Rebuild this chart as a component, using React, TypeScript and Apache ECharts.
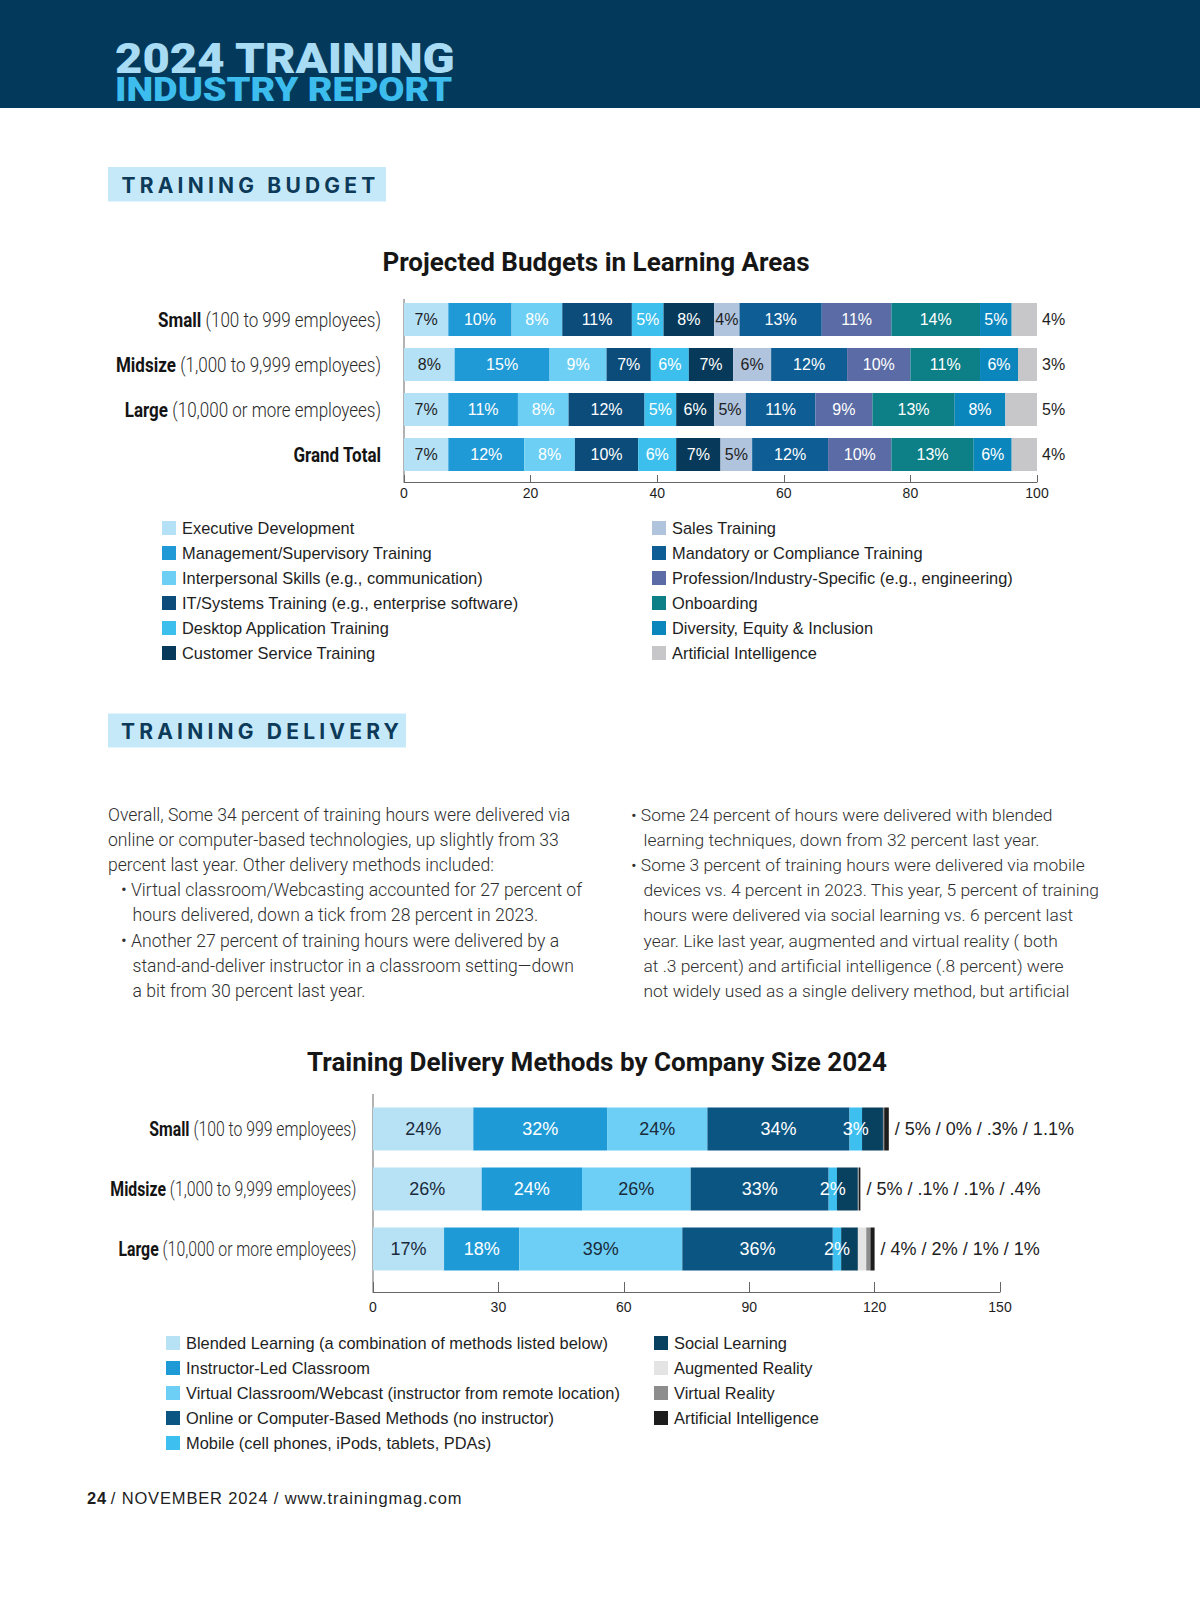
import React, { useEffect, useRef } from 'react';
import * as echarts from 'echarts';

// ---------- Data: Projected Budgets in Learning Areas ----------
const budgetCategories = ['Small', 'Midsize', 'Large', 'Grand Total'];
const budgetCategoryNotes = ['(100 to 999 employees)', '(1,000 to 9,999 employees)', '(10,000 or more employees)', ''];
const budgetSeriesNames = [
  'Executive Development',
  'Management/Supervisory Training',
  'Interpersonal Skills (e.g., communication)',
  'IT/Systems Training (e.g., enterprise software)',
  'Desktop Application Training',
  'Customer Service Training',
  'Sales Training',
  'Mandatory or Compliance Training',
  'Profession/Industry-Specific (e.g., engineering)',
  'Onboarding',
  'Diversity, Equity & Inclusion',
  'Artificial Intelligence',
];
const executiveDevelopment = [7, 8, 7, 7];
const managementSupervisory = [10, 15, 11, 12];
const interpersonalSkills = [8, 9, 8, 8];
const itSystems = [11, 7, 12, 10];
const desktopApplication = [5, 6, 5, 6];
const customerService = [8, 7, 6, 7];
const salesTraining = [4, 6, 5, 5];
const mandatoryCompliance = [13, 12, 11, 12];
const professionSpecific = [11, 10, 9, 10];
const onboarding = [14, 11, 13, 13];
const diversityEquity = [5, 6, 8, 6];
const artificialIntelligenceBudget = [4, 3, 5, 4];
const budgetAxisMax = 100;
const budgetAxisStep = 20;

// ---------- Data: Training Delivery Methods by Company Size 2024 ----------
const deliveryCategories = ['Small', 'Midsize', 'Large'];
const deliveryCategoryNotes = ['(100 to 999 employees)', '(1,000 to 9,999 employees)', '(10,000 or more employees)'];
const deliverySeriesNames = [
  'Blended Learning (a combination of methods listed below)',
  'Instructor-Led Classroom',
  'Virtual Classroom/Webcast (instructor from remote location)',
  'Online or Computer-Based Methods (no instructor)',
  'Mobile (cell phones, iPods, tablets, PDAs)',
  'Social Learning',
  'Augmented Reality',
  'Virtual Reality',
  'Artificial Intelligence',
];
const blendedLearning = [24, 26, 17];
const instructorLed = [32, 24, 18];
const virtualClassroom = [24, 26, 39];
const onlineComputer = [34, 33, 36];
const mobileLearning = [3, 2, 2];
const socialLearning = [5, 5, 4];
const augmentedReality = [0, 0.1, 2];
const virtualReality = [0.3, 0.1, 1];
const artificialIntelligenceDelivery = [1.1, 0.4, 1];
const deliveryAxisMax = 150;
const deliveryAxisStep = 30;

// ---------- Page text ----------
const leftParagraph = [
  'Overall, Some 34 percent of training hours were delivered via',
  'online or computer-based technologies, up slightly from 33',
  'percent last year. Other delivery methods included:',
  '• Virtual classroom/Webcasting accounted for 27 percent of',
  'hours delivered, down a tick from 28 percent in 2023.',
  '• Another 27 percent of training hours were delivered by a',
  'stand-and-deliver instructor in a classroom setting—down',
  'a bit from 30 percent last year.',
];
const leftIndent = [0, 0, 0, 1, 2, 1, 2, 2];
const rightParagraph = [
  '• Some 24 percent of hours were delivered with blended',
  'learning techniques, down from 32 percent last year.',
  '• Some 3 percent of training hours were delivered via mobile',
  'devices vs. 4 percent in 2023. This year, 5 percent of training',
  'hours were delivered via social learning vs. 6 percent last',
  'year. Like last year, augmented and virtual reality ( both',
  'at .3 percent) and artificial intelligence (.8 percent) were',
  'not widely used as a single delivery method, but artificial',
];
const rightIndent = [1, 2, 1, 2, 2, 2, 2, 2];

const LS = "'Liberation Sans', Helvetica, sans-serif";
const INK = '#1e1e1e';

const budgetColors = ['#b4e1f6', '#1f9ad6', '#6ecff5', '#0b4c7b', '#3cbfed', '#073a5a', '#b0c4dd', '#0e5d94', '#5a6ba5', '#0c7f87', '#0b86bd', '#c7c7c9'];
const budgetLabelColors = ['#1e1e1e', '#fff', '#fff', '#fff', '#fff', '#fff', '#1e1e1e', '#fff', '#fff', '#fff', '#fff', '#1e1e1e'];
const deliveryColors = ['#b7e2f6', '#1e9bd7', '#6dcff6', '#0b5582', '#3dc0ef', '#08405f', '#e4e4e4', '#8d8d8d', '#1d1d1d'];
const deliveryLabelColors = ['#1b2b3b', '#fff', '#1b2b3b', '#fff', '#fff'];

const pct = (v: number) => (v > 0 && v < 1 ? String(v).slice(1) : String(v)) + '%';

function baseGraphic() {
  const graphic: any[] = [
    { type: 'rect', silent: true, shape: { x: 0, y: 0, width: 1200, height: 108 }, style: { fill: '#033a5b' } },
    { type: 'text', silent: true, x: 115, y: 59, scaleX: 1.125, style: { text: '2024 TRAINING', fill: '#a8dcf5', fontSize: 42, fontWeight: 900, fontFamily: 'Roboto', align: 'left', verticalAlign: 'middle' } },
    { type: 'text', silent: true, x: 115, y: 90, scaleX: 1.15, style: { text: 'INDUSTRY REPORT', fill: '#3cbdee', fontSize: 33, fontWeight: 900, fontFamily: 'Roboto', align: 'left', verticalAlign: 'middle' } },
    { type: 'rect', silent: true, shape: { x: 108, y: 167, width: 278, height: 34.5 }, style: { fill: '#c6e9f9' } },
    { type: 'text', silent: true, x: 121.5, y: 185, style: { text: 'TRAINING BUDGET', fill: '#0c3a58', fontSize: 21, fontWeight: 'bold', fontFamily: 'Inter', align: 'left', verticalAlign: 'middle' } },
    { type: 'text', silent: true, x: 596, y: 262, style: { text: 'Projected Budgets in Learning Areas', fill: '#161616', fontSize: 26, fontWeight: 'bold', fontFamily: 'Roboto', align: 'center', verticalAlign: 'middle' } },
    { type: 'line', silent: true, shape: { x1: 404, y1: 299, x2: 404, y2: 482 }, style: { stroke: '#666', lineWidth: 1 } },
    { type: 'rect', silent: true, shape: { x: 108, y: 713.5, width: 298, height: 34 }, style: { fill: '#c6e9f9' } },
    { type: 'text', silent: true, x: 121, y: 731, style: { text: 'TRAINING DELIVERY', fill: '#0c3a58', fontSize: 21, fontWeight: 'bold', fontFamily: 'Inter', align: 'left', verticalAlign: 'middle' } },
    { type: 'text', silent: true, x: 597, y: 1062, style: { text: 'Training Delivery Methods by Company Size 2024', fill: '#161616', fontSize: 26, fontWeight: 'bold', fontFamily: 'Roboto', align: 'center', verticalAlign: 'middle' } },
    { type: 'line', silent: true, shape: { x1: 373, y1: 1094, x2: 373, y2: 1292 }, style: { stroke: '#666', lineWidth: 1 } },
    {
      type: 'text', silent: true, x: 87, y: 1498,
      style: { text: '{b|24} / NOVEMBER 2024 / www.trainingmag.com', fill: INK, fontSize: 16.5, fontFamily: 'Arial', align: 'left', verticalAlign: 'middle', rich: { b: { fontWeight: 'bold', fontSize: 16.5, fontFamily: 'Arial', fill: INK } } },
    },
  ];
  const lineY = (k: number) => 815 + k * 25.1;
  leftParagraph.forEach((t, k) => {
    const x = [108, 121, 132.5][leftIndent[k]];
    graphic.push({ type: 'text', silent: true, x, y: lineY(k), style: { text: t, fill: '#2e2e2e', fontSize: 17.6, fontWeight: 300, fontFamily: 'Roboto', align: 'left', verticalAlign: 'middle' } });
  });
  rightParagraph.forEach((t, k) => {
    const x = [630, 631, 643.5][rightIndent[k]];
    graphic.push({ type: 'text', silent: true, x, y: lineY(k), style: { text: t, fill: '#2e2e2e', fontSize: 17.4, fontWeight: 300, fontFamily: 'Roboto', align: 'left', verticalAlign: 'middle' } });
  });
  return graphic;
}

function buildOption() {
  const budgetValues = [
    executiveDevelopment, managementSupervisory, interpersonalSkills, itSystems,
    desktopApplication, customerService, salesTraining, mandatoryCompliance,
    professionSpecific, onboarding, diversityEquity, artificialIntelligenceBudget,
  ];
  const deliveryValues = [
    blendedLearning, instructorLed, virtualClassroom, onlineComputer, mobileLearning,
    socialLearning, augmentedReality, virtualReality, artificialIntelligenceDelivery,
  ];

  const budgetSeries = budgetValues.map((vals, i) => {
    const last = i === budgetValues.length - 1;
    return {
      type: 'bar',
      name: budgetSeriesNames[i],
      stack: 'budget',
      xAxisIndex: 0,
      yAxisIndex: 0,
      barWidth: 33,
      data: vals,
      itemStyle: { color: budgetColors[i] },
      label: last
        ? { show: true, position: 'right', distance: 5, formatter: (p: any) => p.value + '%', color: INK, fontSize: 16, fontFamily: LS }
        : { show: true, position: 'inside', formatter: (p: any) => p.value + '%', color: budgetLabelColors[i], fontSize: 16, fontFamily: LS },
    };
  });

  const deliverySeries = deliveryValues.map((vals, i) => {
    const last = i === deliveryValues.length - 1;
    let label: any = { show: false };
    if (i < 5) {
      label = { show: true, position: 'inside', formatter: (p: any) => p.value + '%', color: deliveryLabelColors[i], fontSize: 18, fontFamily: LS };
    } else if (last) {
      label = {
        show: true, position: 'right', distance: 6, color: INK, fontSize: 18, fontFamily: LS,
        formatter: (p: any) => {
          const k = p.dataIndex;
          return `/ ${pct(socialLearning[k])} / ${pct(augmentedReality[k])} / ${pct(virtualReality[k])} / ${pct(artificialIntelligenceDelivery[k])}`;
        },
      };
    }
    return {
      type: 'bar',
      name: deliverySeriesNames[i],
      stack: 'delivery',
      xAxisIndex: 1,
      yAxisIndex: 1,
      barWidth: 43,
      data: vals,
      itemStyle: { color: deliveryColors[i] },
      label,
    };
  });

  const legendBase = {
    orient: 'vertical', padding: 0, itemWidth: 14, itemHeight: 14, icon: 'rect', itemGap: 9,
    selectedMode: false,
    textStyle: { fontSize: 16.4, color: INK, fontFamily: LS, padding: [0, 0, 0, 1] },
  };
  const legendItems = (names: string[], colors: string[], from: number, to: number) =>
    names.slice(from, to).map((n, j) => ({ name: n, itemStyle: { color: colors[from + j] } }));

  const axisCommon = (tickLen: number, margin: number) => ({
    type: 'value',
    axisLine: { show: true, lineStyle: { color: '#666', width: 1 } },
    axisTick: { show: true, inside: true, length: tickLen, lineStyle: { color: '#666', width: 1 } },
    axisLabel: { fontSize: 14, color: INK, fontFamily: LS, margin },
    splitLine: { show: false },
  });

  return {
    animation: false,
    backgroundColor: '#ffffff',
    grid: [
      { left: 404, width: 633, top: 297, height: 180 },
      { left: 373, width: 627, top: 1099, height: 180 },
    ],
    xAxis: [
      { ...axisCommon(7, 4), gridIndex: 0, min: 0, max: budgetAxisMax, interval: budgetAxisStep, offset: 5 },
      { ...axisCommon(10, 8), gridIndex: 1, min: 0, max: deliveryAxisMax, interval: deliveryAxisStep, offset: 13 },
    ],
    yAxis: [
      { type: 'category', gridIndex: 0, inverse: true, data: budgetCategories, axisLine: { show: false }, axisTick: { show: false }, axisLabel: { show: false } },
      { type: 'category', gridIndex: 1, inverse: true, data: deliveryCategories, axisLine: { show: false }, axisTick: { show: false }, axisLabel: { show: false } },
    ],
    legend: [
      { ...legendBase, left: 162, top: 520, data: legendItems(budgetSeriesNames, budgetColors, 0, 6) },
      { ...legendBase, left: 652, top: 520, data: legendItems(budgetSeriesNames, budgetColors, 6, 12) },
      { ...legendBase, left: 166, top: 1335, data: legendItems(deliverySeriesNames, deliveryColors, 0, 5) },
      { ...legendBase, left: 654, top: 1335, data: legendItems(deliverySeriesNames, deliveryColors, 5, 9) },
    ],
    graphic: baseGraphic(),
    series: [...budgetSeries, ...deliverySeries],
  };
}

// Category labels are placed on the category axes' own pixel positions, condensed horizontally.
function categoryLabels(chart: any) {
  const out: any[] = [];
  const make = (cats: string[], notes: string[], axisIndex: number, margin: number, size: number, squeeze: number) => {
    const x0 = chart.convertToPixel({ xAxisIndex: axisIndex }, 0) as number;
    cats.forEach((c, i) => {
      const y = chart.convertToPixel({ yAxisIndex: axisIndex }, c) as number;
      const text = notes[i] ? `{b|${c}} {l|${notes[i]}}` : `{b|${c}}`;
      out.push({
        type: 'text', silent: true, x: x0 - margin, y, scaleX: squeeze,
        style: {
          text, align: 'right', verticalAlign: 'middle', fontFamily: 'Roboto', fontSize: size, fontWeight: 300, fill: '#2a2a2a',
          rich: {
            b: { fontFamily: 'Roboto', fontWeight: 'bold', fontSize: size, fill: '#141414' },
            l: { fontFamily: 'Roboto', fontWeight: 300, fontSize: size, fill: '#2a2a2a' },
          },
        },
      });
    });
  };
  make(budgetCategories, budgetCategoryNotes, 0, 23, 21, 0.81);
  make(deliveryCategories, deliveryCategoryNotes, 1, 16.5, 20, 0.79);
  return out;
}

export default function App() {
  const ref = useRef<HTMLDivElement>(null);
  useEffect(() => {
    if (!ref.current) return;
    const chart = echarts.init(ref.current, null, { renderer: 'svg', width: 1200, height: 1613 });
    chart.setOption(buildOption() as any);
    chart.setOption({ graphic: [...baseGraphic(), ...categoryLabels(chart)] } as any, { replaceMerge: ['graphic'] } as any);
    return () => chart.dispose();
  }, []);
  return (
    <div style={{ position: 'absolute', left: 0, top: 0, width: 1200, height: 1613, background: '#fff' }}>
      <style>{'text[style*="Inter"]{letter-spacing:4.2px}text[style*="Arial"]{letter-spacing:0.85px}'}</style>
      <div ref={ref} style={{ width: 1200, height: 1613 }} />
    </div>
  );
}
